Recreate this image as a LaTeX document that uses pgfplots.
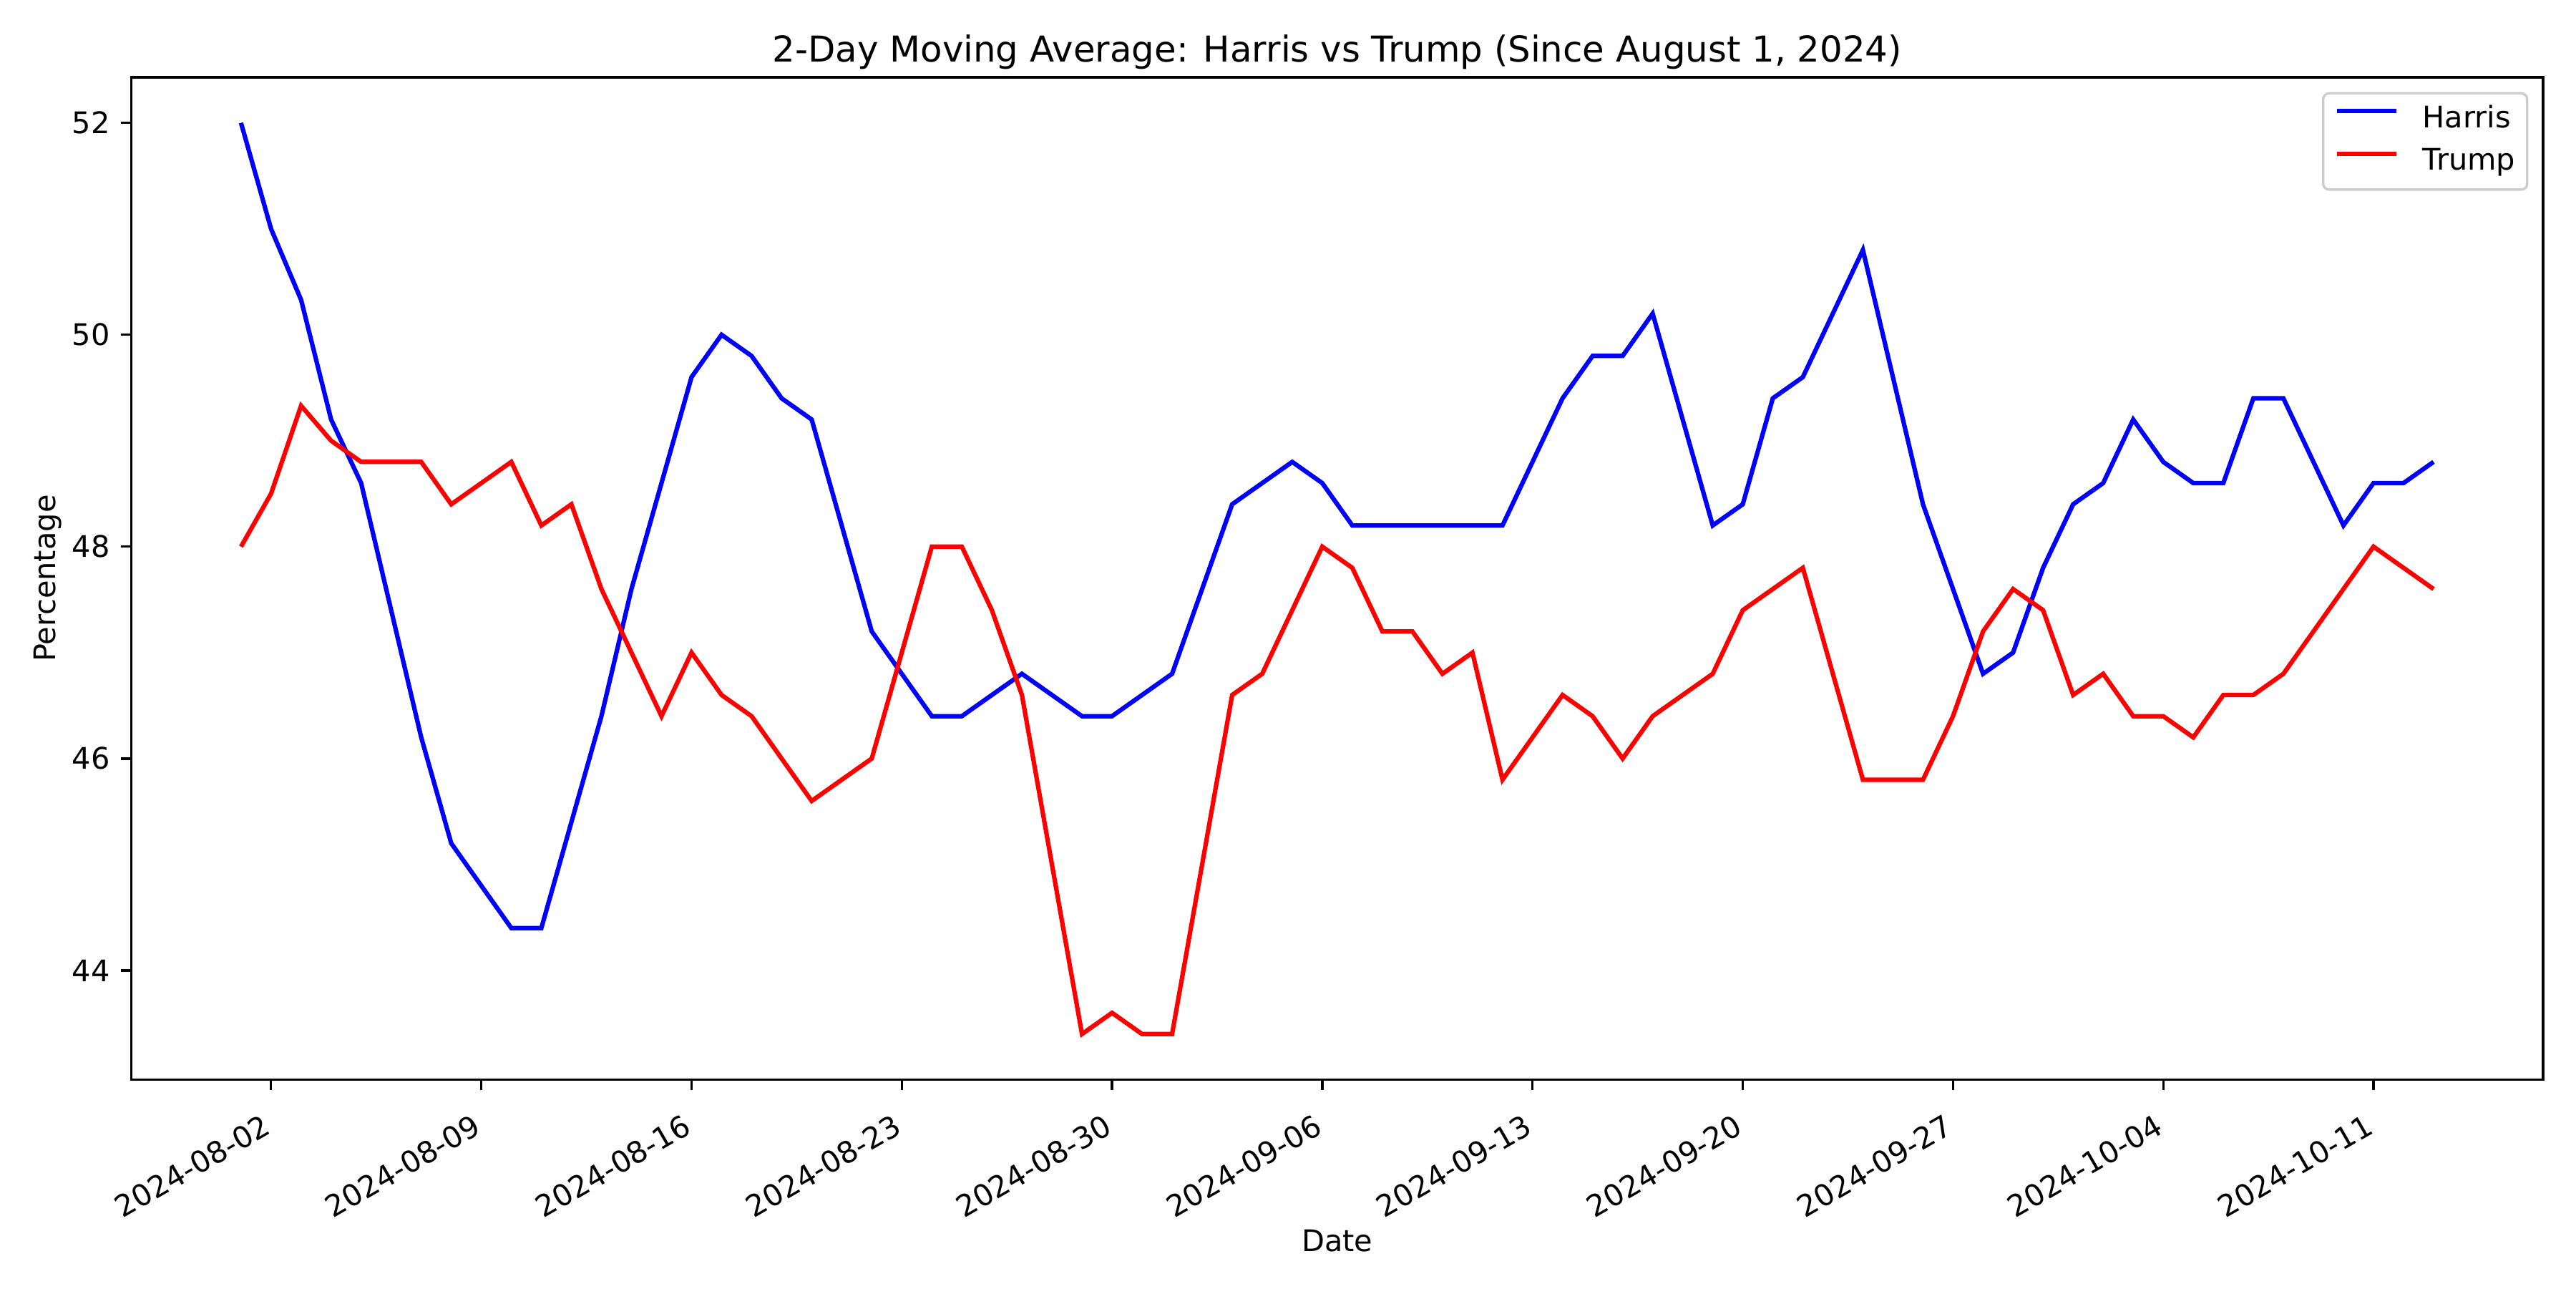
\documentclass[border=0pt]{standalone}
\usepackage{fontspec}
\setmainfont{DejaVu Sans}
\usepackage{pgfplots}
\usepackage{pgfplotstable}
\pgfplotsset{compat=1.18}
\usetikzlibrary{calc}

% day index: 0 = 2024-08-01
\pgfplotstableread{
d v
0 52.0
1 51.0
2 50.33
3 49.2
4 48.6
6 46.2
7 45.2
9 44.4
10 44.4
12 46.4
13 47.6
15 49.6
16 50.0
17 49.8
18 49.4
19 49.2
21 47.2
23 46.4
24 46.4
26 46.8
28 46.4
29 46.4
31 46.8
33 48.4
34 48.6
35 48.8
36 48.6
37 48.2
42 48.2
44 49.4
45 49.8
46 49.8
47 50.2
49 48.2
50 48.4
51 49.4
52 49.6
54 50.8
56 48.4
58 46.8
59 47.0
60 47.8
61 48.4
62 48.6
63 49.2
64 48.8
65 48.6
66 48.6
67 49.4
68 49.4
70 48.2
71 48.6
72 48.6
73 48.8
}\harris

\pgfplotstableread{
d v
0 48.0
1 48.5
2 49.33
3 49.0
4 48.8
6 48.8
7 48.4
9 48.8
10 48.2
11 48.4
12 47.6
14 46.4
15 47.0
16 46.6
17 46.4
19 45.6
21 46.0
23 48.0
24 48.0
25 47.4
26 46.6
28 43.4
29 43.6
30 43.4
31 43.4
33 46.6
34 46.8
36 48.0
37 47.8
38 47.2
39 47.2
40 46.8
41 47.0
42 45.8
44 46.6
45 46.4
46 46.0
47 46.4
49 46.8
50 47.4
52 47.8
54 45.8
56 45.8
57 46.4
58 47.2
59 47.6
60 47.4
61 46.6
62 46.8
63 46.4
64 46.4
65 46.2
66 46.6
67 46.6
68 46.8
71 48.0
73 47.6
}\trump

\begin{document}
\begin{tikzpicture}
\begin{axis}[
  name=ax,
  scale only axis,
  width=11.235in, height=4.668in,
  xmin=-3.65, xmax=76.65, ymin=42.97, ymax=52.43,
  xtick={1,8,15,22,29,36,43,50,57,64,71},
  xticklabels={2024-08-02,2024-08-09,2024-08-16,2024-08-23,2024-08-30,2024-09-06,2024-09-13,2024-09-20,2024-09-27,2024-10-04,2024-10-11},
  ytick={44,46,48,50,52},
  tick align=outside, xtick pos=lower, ytick pos=left,
  major tick length=3.5pt,
  every tick/.style={black, line width=0.8pt},
  axis line style={line width=0.8pt},
  /pgf/number format/assume math mode=true,
  tick label style={font=\fontsize{10}{12}\selectfont},
  xticklabel style={rotate=30, anchor=north east, inner sep=0pt, xshift=-6.5pt, yshift=-5pt},
  yticklabel style={inner sep=0pt, xshift=-3.5pt},
  title={2-Day Moving Average: Harris vs Trump (Since August 1, 2024)},
  title style={font=\fontsize{12}{14}\selectfont, inner sep=0pt, yshift=-3.5pt},
  xlabel={Date}, ylabel={Percentage},
  label style={font=\fontsize{10}{12}\selectfont},
  legend style={at={(1,1)}, anchor=north east, xshift=-5pt, yshift=-5pt,
    draw=black!20, line width=0.8pt, rounded corners=2pt, fill=white,
    font=\fontsize{10}{12}\selectfont, inner xsep=4pt, inner ysep=4pt,
    nodes={inner sep=0pt, text height=7.5pt, text depth=2.5pt},
    column sep=8pt, row sep=4.4pt},
  legend cell align=left,
  legend image code/.code={\draw[#1] (0pt,3pt) -- (20pt,3pt);},
]
\addplot[blue, line width=1.5pt] table[x=d, y=v] {\harris};
\addlegendentry{Harris}
\addplot[red, line width=1.5pt] table[x=d, y=v] {\trump};
\addlegendentry{Trump}
\end{axis}
\path ($(ax.south west)+(-0.612in,-0.972in)$) rectangle ($(ax.north east)+(0.153in,0.36in)$);
\end{tikzpicture}
\end{document}
